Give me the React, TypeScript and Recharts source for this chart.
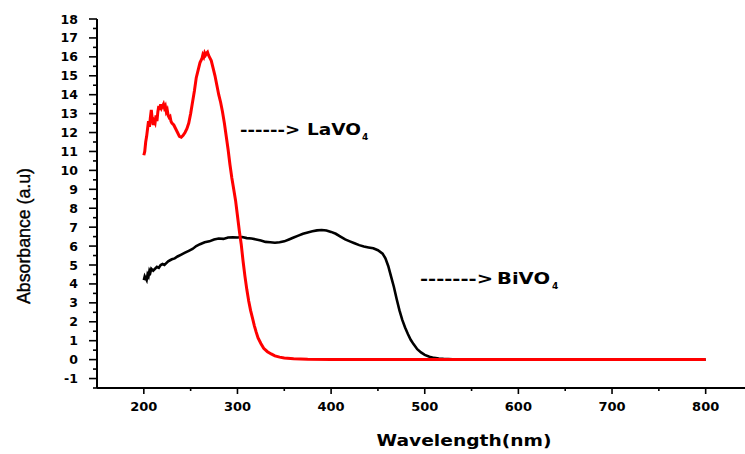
import React from 'react';
import { LineChart, Line, XAxis, YAxis } from 'recharts';

const laWavelength = [200, 201, 202, 203, 204, 205, 206, 207, 208, 209, 210, 211, 212, 213, 214, 215, 216, 217, 218, 219, 220, 221, 222, 223, 224, 225, 226, 227, 228, 229, 230, 232, 234, 236, 238, 240, 242, 244, 246, 248, 250, 252, 254, 256, 258, 260, 262, 263, 264, 265, 266, 267, 268, 269, 270, 272, 274, 276, 278, 280, 282, 284, 286, 288, 290, 292, 294, 296, 298, 300, 302, 304, 306, 308, 310, 312, 314, 316, 318, 320, 322, 325, 328, 332, 336, 340, 345, 350, 360, 375, 400, 450, 500, 600, 700, 800];
const laAbsorbance = [10.8, 11.0, 11.5, 11.8, 12.2, 12.6, 12.3, 12.8, 13.2, 12.7, 12.4, 12.6, 12.5, 12.9, 12.6, 13.1, 13.4, 13.2, 13.5, 13.3, 13.4, 13.5, 13.3, 13.4, 13.1, 13.2, 12.9, 12.8, 12.85, 12.6, 12.5, 12.4, 12.2, 12.0, 11.8, 11.75, 11.85, 12.0, 12.2, 12.5, 13.0, 13.6, 14.2, 14.9, 15.3, 15.7, 15.9, 16.1, 16.0, 16.2, 16.1, 16.2, 16.25, 16.1, 16.0, 15.8, 15.4, 15.0, 14.5, 14.0, 13.6, 13.1, 12.5, 11.8, 11.1, 10.3, 9.6, 9.0, 8.4, 7.6, 6.8, 6.1, 5.2, 4.4, 3.7, 3.1, 2.6, 2.2, 1.8, 1.45, 1.15, 0.85, 0.6, 0.42, 0.3, 0.2, 0.13, 0.09, 0.05, 0.02, 0.01, 0, 0, 0, 0, 0];

const biWavelength = [200, 201, 202, 203, 204, 205, 206, 207, 208, 210, 212, 214, 216, 218, 220, 222, 224, 226, 228, 230, 233, 236, 240, 244, 248, 252, 256, 260, 265, 270, 275, 280, 285, 290, 295, 300, 305, 310, 315, 320, 325, 330, 335, 340, 345, 350, 355, 360, 365, 370, 375, 380, 385, 390, 395, 400, 405, 410, 415, 420, 425, 430, 435, 440, 445, 450, 455, 458, 461, 464, 467, 470, 473, 476, 479, 482, 485, 488, 492, 496, 500, 505, 510, 515, 520, 530, 550, 600, 700, 800];
const biAbsorbance = [4.2, 4.4, 4.3, 4.2, 4.5, 4.4, 4.7, 4.6, 4.8, 4.7, 4.8, 4.9, 4.85, 5.0, 5.05, 5.0, 5.1, 5.2, 5.25, 5.3, 5.35, 5.45, 5.55, 5.65, 5.75, 5.85, 6.0, 6.1, 6.2, 6.25, 6.35, 6.4, 6.38, 6.45, 6.47, 6.45, 6.48, 6.42, 6.4, 6.35, 6.3, 6.22, 6.2, 6.18, 6.2, 6.25, 6.35, 6.45, 6.55, 6.65, 6.72, 6.78, 6.83, 6.85, 6.82, 6.75, 6.65, 6.5, 6.35, 6.25, 6.15, 6.05, 5.98, 5.93, 5.88, 5.78, 5.6, 5.35, 4.95, 4.4, 3.85, 3.2, 2.6, 2.1, 1.7, 1.35, 1.05, 0.82, 0.55, 0.38, 0.25, 0.15, 0.09, 0.06, 0.04, 0.02, 0.01, 0, 0, 0];

const xTicks = [200, 250, 300, 350, 400, 450, 500, 550, 600, 650, 700, 750, 800];
const yTicks = [-1.5, -1, -0.5, 0, 0.5, 1, 1.5, 2, 2.5, 3, 3.5, 4, 4.5, 5, 5.5, 6, 6.5, 7, 7.5, 8, 8.5, 9, 9.5, 10, 10.5, 11, 11.5, 12, 12.5, 13, 13.5, 14, 14.5, 15, 15.5, 16, 16.5, 17, 17.5, 18];

const laData = laWavelength.map((w, i) => ({ w, v: laAbsorbance[i] }));
const biData = biWavelength.map((w, i) => ({ w, v: biAbsorbance[i] }));

const BOLD = '"DejaVu Sans", "Liberation Sans", Arial, sans-serif';
const REG = '"Liberation Sans", Arial, sans-serif';

const YTick = (props: any) => {
  const { x, y, payload } = props;
  const v = payload.value as number;
  const major = Number.isInteger(v);
  return (
    <g>
      <line x1={x - (major ? 8 : 4)} x2={x} y1={y} y2={y} stroke="#000" strokeWidth={1.6} />
      {major && (
        <text x={x - 19} y={y + 4.5} textAnchor="end" fontFamily={BOLD} fontWeight="bold" fontSize={12.5} fill="#000">
          {String(v)}
        </text>
      )}
    </g>
  );
};

const XTick = (props: any) => {
  const { x, y, payload } = props;
  const v = payload.value as number;
  const major = v % 100 === 0;
  return (
    <g>
      <line x1={x} x2={x} y1={y} y2={y + (major ? 6 : 3)} stroke="#000" strokeWidth={1.6} />
      {major && (
        <text x={x} y={y + 23} textAnchor="middle" fontFamily={BOLD} fontWeight="bold" fontSize={13} fill="#000">
          {String(v)}
        </text>
      )}
    </g>
  );
};

export default function App() {
  return (
    <div style={{ position: 'fixed', left: 0, top: 0, width: 745, height: 454, background: '#fff', overflow: 'hidden' }}>
      <LineChart width={745} height={454} margin={{ top: 19, right: 0, bottom: 0, left: 0 }}>
        <XAxis
          type="number"
          dataKey="w"
          domain={[150, 842]}
          ticks={xTicks}
          interval={0}
          tickSize={0}
          tickMargin={0}
          tickLine={false}
          tick={<XTick />}
          height={66}
          axisLine={{ stroke: '#000', strokeWidth: 2 }}
          allowDataOverflow
        />
        <YAxis
          type="number"
          domain={[-1.5, 18]}
          ticks={yTicks}
          interval={0}
          tickSize={0}
          tickMargin={0}
          tickLine={false}
          tick={<YTick />}
          width={97}
          axisLine={{ stroke: '#000', strokeWidth: 2 }}
          allowDataOverflow
        />
        <Line data={biData} dataKey="v" type="linear" stroke="#000" strokeWidth={2.6} dot={false} isAnimationActive={false} />
        <Line data={laData} dataKey="v" type="linear" stroke="#ff0000" strokeWidth={3} dot={false} isAnimationActive={false} />
      </LineChart>
      <svg width={745} height={454} style={{ position: 'absolute', left: 0, top: 0, pointerEvents: 'none' }}>
        <g fontFamily={BOLD} fontWeight="bold" fill="#000">
          <text x={240} y={135} fontSize={15} textLength={60} lengthAdjust="spacingAndGlyphs">{'------>'}</text>
          <text x={307} y={135} fontSize={15} textLength={54} lengthAdjust="spacingAndGlyphs">LaVO</text>
          <text x={362} y={140} fontSize={9}>4</text>
          <text x={420} y={284} fontSize={15} textLength={73} lengthAdjust="spacingAndGlyphs">{'------->'}</text>
          <text x={497} y={284} fontSize={15} textLength={53} lengthAdjust="spacingAndGlyphs">BiVO</text>
          <text x={552} y={289} fontSize={9}>4</text>
          <text x={464} y={446} textAnchor="middle" fontSize={16} textLength={175} lengthAdjust="spacingAndGlyphs">
            Wavelength(nm)
          </text>
        </g>
        <text
          x={0}
          y={0}
          transform="translate(30 236) rotate(-90)"
          textAnchor="middle"
          fontFamily={REG}
          fontSize={18}
          fill="#000"
          stroke="#000"
          strokeWidth={0.4}
          textLength={136}
          lengthAdjust="spacingAndGlyphs"
        >
          Absorbance (a.u)
        </text>
      </svg>
    </div>
  );
}
